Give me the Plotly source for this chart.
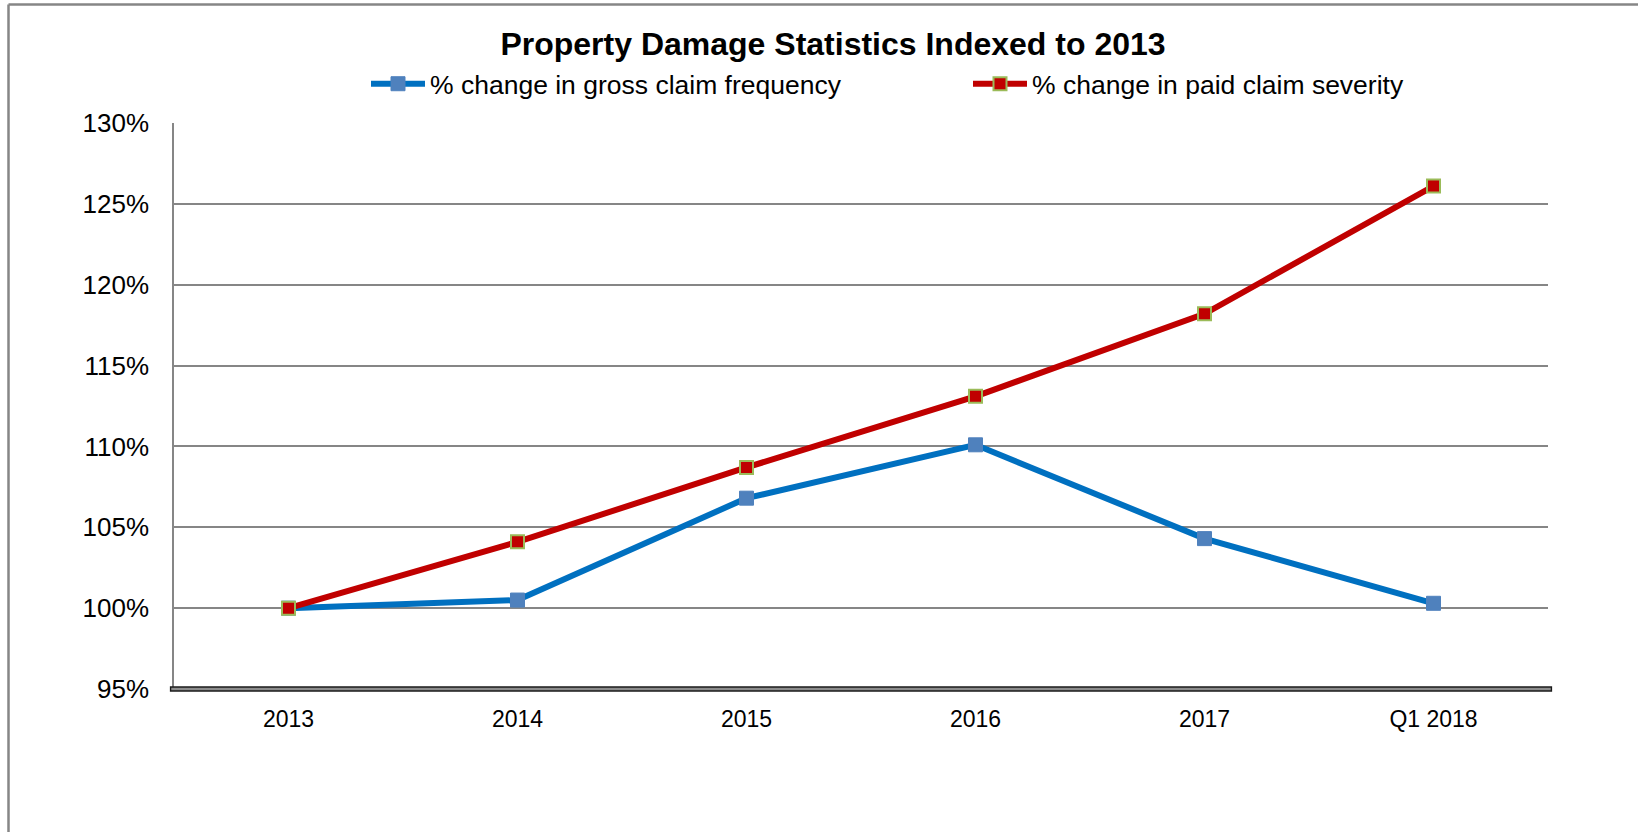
import plotly.graph_objects as go

categories = ["2013", "2014", "2015", "2016", "2017", "Q1 2018"]
frequency = [1.000, 1.005, 1.068, 1.101, 1.043, 1.003]
severity = [1.000, 1.041, 1.087, 1.131, 1.182, 1.261]
y_ticks = [0.95, 1.00, 1.05, 1.10, 1.15, 1.20, 1.25, 1.30]
y_tick_labels = ["95%", "100%", "105%", "110%", "115%", "120%", "125%", "130%"]

FONT = "Liberation Sans, Arial, sans-serif"

fig = go.Figure()
fig.add_trace(go.Scatter(
    x=categories, y=frequency, mode="lines+markers",
    name="% change in gross claim frequency",
    line=dict(color="#0070C0", width=6),
    marker=dict(symbol="square", size=14, color="#4F81BD",
                line=dict(color="#4F81BD", width=1)),
))
fig.add_trace(go.Scatter(
    x=categories, y=severity, mode="lines+markers",
    name="% change in paid claim severity",
    line=dict(color="#C00000", width=6),
    marker=dict(symbol="square", size=13, color="#C00000",
                line=dict(color="#9BBB59", width=2)),
))

W, H = 1638, 832
L, R, T, B = 174, 90, 123, 142.5
pw, ph = W - L - R, H - T - B

def px_x(x):
    return (x - L) / pw

def px_y(y):
    return (H - B - y) / ph

fig.update_layout(
    width=W, height=H,
    margin=dict(l=L, r=R, t=T, b=B, pad=0, autoexpand=False),
    paper_bgcolor="white", plot_bgcolor="white",
    font=dict(family=FONT, color="black", size=23),
    title=dict(text="<b>Property Damage Statistics Indexed to 2013</b>",
               font=dict(family=FONT, size=32, color="black"),
               xref="container", x=833 / W, xanchor="center",
               yref="container", y=1 - 44 / H, yanchor="middle"),
    legend=dict(orientation="h", xref="container", x=366 / W, xanchor="left",
                yref="container", y=1 - 84 / H, yanchor="middle",
                font=dict(family=FONT, size=26.5, color="black"),
                entrywidth=533, entrywidthmode="pixels",
                bgcolor="rgba(0,0,0,0)", itemwidth=54,
                tracegroupgap=0),
    showlegend=True,
    xaxis=dict(type="category", range=[-0.5, 5.5], showgrid=False,
               showline=False,
               ticks="", tickfont=dict(size=23), ticklabelstandoff=14,
               zeroline=False, automargin=False),
    yaxis=dict(range=[0.95, 1.30], tickvals=y_ticks, ticktext=y_tick_labels,
               showgrid=True, gridcolor="#868686", gridwidth=1.5,
               showline=True, linecolor="#868686", linewidth=1.5,
               ticks="", tickfont=dict(size=26), ticklabelstandoff=18,
               zeroline=False, automargin=False),
    shapes=[
        # double bottom axis line: dark outline with grey core
        dict(type="line", xref="paper", yref="paper", x0=-0.003, x1=1.003,
             y0=0, y1=0, line=dict(color="#1A1A1A", width=5.5), layer="above"),
        dict(type="line", xref="paper", yref="paper", x0=-0.002, x1=1.002,
             y0=0, y1=0, line=dict(color="#8C8C8C", width=2.5), layer="above"),
        # outer chart border (top and left edges visible)
        dict(type="line", xref="paper", yref="paper",
             x0=px_x(8.5), x1=px_x(1645), y0=px_y(4.5), y1=px_y(4.5),
             line=dict(color="#868686", width=2.5)),
        dict(type="line", xref="paper", yref="paper",
             x0=px_x(8.5), x1=px_x(8.5), y0=px_y(4.5), y1=px_y(840),
             line=dict(color="#868686", width=2.5)),
    ],
)

fig.write_html(
    "out.html",
    config={"displayModeBar": False},
    post_script="document.body.style.margin='0';document.body.style.overflow='hidden';",
)
